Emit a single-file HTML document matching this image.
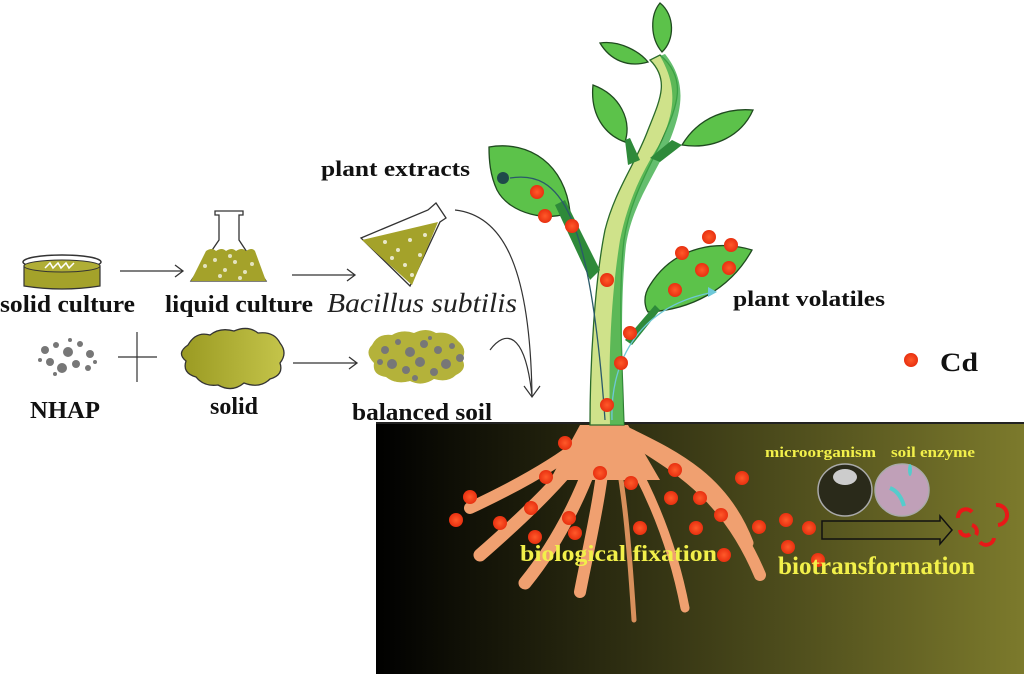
<!DOCTYPE html>
<html><head><meta charset="utf-8"><style>
html,body{margin:0;padding:0;background:#fff;width:1024px;height:674px;overflow:hidden}
svg{display:block}
.b{font-family:"Liberation Serif",serif;font-weight:bold;fill:#111}
.y{font-family:"Liberation Serif",serif;font-weight:bold;fill:#f2f04a}
</style></head><body>
<svg width="1024" height="674" viewBox="0 0 1024 674" xmlns="http://www.w3.org/2000/svg">
<defs>
<linearGradient id="soil" x1="0" x2="1" y1="0" y2="0">
<stop offset="0" stop-color="#000"/><stop offset="0.35" stop-color="#2a2a10"/><stop offset="1" stop-color="#7c7a2c"/>
</linearGradient>
<linearGradient id="olive" x1="0" x2="1"><stop offset="0" stop-color="#9a9a22"/><stop offset="1" stop-color="#c4c44a"/></linearGradient>
<radialGradient id="dot"><stop offset="0" stop-color="#ff5a2a"/><stop offset="1" stop-color="#e83010"/></radialGradient>
</defs>

<rect x="376" y="423" width="648" height="251" fill="url(#soil)"/>
<line x1="376" y1="423" x2="1024" y2="423" stroke="#222" stroke-width="2"/>

<!-- row 1 -->
<ellipse cx="62" cy="262" rx="39" ry="7" fill="none" stroke="#333" stroke-width="1.5"/>
<path d="M24,266 L24,286 Q62,292 100,286 L100,266 Q62,276 24,266Z" fill="#a4a22a" stroke="#333" stroke-width="1.2"/>
<ellipse cx="62" cy="266" rx="38" ry="6" fill="#b0ae36" stroke="#333" stroke-width="1"/>
<path d="M45,268 l5,-5 l3,5 l5,-5 l3,5 l5,-5 l3,5 l5,-5" fill="none" stroke="#fff" stroke-width="1.5"/>
<line x1="120" y1="271" x2="182" y2="271" stroke="#333" stroke-width="1.3"/><path d="M175,265 L183,271 L175,277" fill="none" stroke="#333" stroke-width="1.3"/>
<path d="M215,211 L243,211 L243,215 L239,215 L239,240 L266,281 L191,281 L219,240 L219,215 L215,215Z" fill="#fff" stroke="#333" stroke-width="1.3"/>
<path d="M206,251 q6,-4 10,0 q6,-4 10,0 q6,-4 10,0 q6,-4 10,0 q6,-4 9,0 L266,281 L191,281Z" fill="#a4a22a"/>
<g fill="#fff" opacity="0.7"><circle cx="205" cy="266" r="2"/><circle cx="215" cy="260" r="2"/><circle cx="225" cy="270" r="2"/><circle cx="235" cy="262" r="2"/><circle cx="245" cy="272" r="2"/><circle cx="252" cy="264" r="2"/><circle cx="220" cy="276" r="2"/><circle cx="240" cy="278" r="2"/><circle cx="230" cy="256" r="2"/></g>
<line x1="292" y1="275" x2="354" y2="275" stroke="#333" stroke-width="1.3"/><path d="M347,269 L355,275 L347,281" fill="none" stroke="#333" stroke-width="1.3"/>
<path d="M361,238 L428,210 L436,203 L446,218 L440,222 L410,286 Z" fill="#fff" stroke="#333" stroke-width="1.3"/>
<path d="M362,240 L438,222 L412,285Z" fill="#a4a22a"/>
<g fill="#fff" opacity="0.75"><circle cx="385" cy="242" r="2"/><circle cx="398" cy="250" r="2"/><circle cx="410" cy="240" r="2"/><circle cx="420" cy="255" r="2"/><circle cx="405" cy="265" r="2"/><circle cx="425" cy="235" r="2"/><circle cx="412" cy="275" r="2"/><circle cx="392" cy="258" r="2"/></g>
<text class="b" x="0" y="312" font-size="24" textLength="135" lengthAdjust="spacingAndGlyphs">solid culture</text>
<text class="b" x="165" y="312" font-size="24" textLength="148" lengthAdjust="spacingAndGlyphs">liquid culture</text>
<text x="327" y="312" font-size="27" font-family="Liberation Serif,serif" font-style="italic" fill="#222" textLength="190" lengthAdjust="spacingAndGlyphs">Bacillus subtilis</text>

<!-- row 2 -->
<g fill="#777"><circle cx="45" cy="350" r="4"/><circle cx="56" cy="345" r="3"/><circle cx="68" cy="352" r="5"/><circle cx="80" cy="344" r="3"/><circle cx="90" cy="354" r="4"/><circle cx="50" cy="362" r="4"/><circle cx="62" cy="368" r="5"/><circle cx="76" cy="364" r="4"/><circle cx="88" cy="368" r="3"/><circle cx="40" cy="360" r="2"/><circle cx="70" cy="340" r="2"/><circle cx="95" cy="362" r="2"/><circle cx="55" cy="374" r="2"/></g>
<line x1="118" y1="357" x2="157" y2="357" stroke="#333" stroke-width="1.2"/><line x1="137" y1="332" x2="137" y2="382" stroke="#333" stroke-width="1.2"/>
<path d="M188,345 q8,-14 22,-10 q10,-8 24,-4 q14,-6 24,2 q16,-2 22,10 q8,10 0,20 q4,12 -10,16 q-10,10 -26,4 q-12,10 -26,2 q-14,2 -22,-8 q-14,-4 -10,-16 q-10,-8 2,-16Z" fill="url(#olive)" stroke="#333" stroke-width="1.3"/>
<line x1="293" y1="363" x2="356" y2="363" stroke="#333" stroke-width="1.3"/><path d="M349,357 L357,363 L349,369" fill="none" stroke="#333" stroke-width="1.3"/>
<path d="M372,345 q6,-12 20,-10 q10,-6 22,-2 q12,-6 22,0 q14,-2 22,8 q10,8 4,18 q6,10 -6,16 q-8,8 -22,4 q-12,8 -24,2 q-14,4 -24,-4 q-14,-2 -12,-14 q-10,-10 -2,-18Z" fill="#b4b23a"/>
<g fill="#777"><circle cx="385" cy="350" r="4"/><circle cx="398" cy="342" r="3"/><circle cx="410" cy="352" r="5"/><circle cx="424" cy="344" r="4"/><circle cx="438" cy="350" r="4"/><circle cx="452" cy="346" r="3"/><circle cx="460" cy="358" r="4"/><circle cx="392" cy="364" r="5"/><circle cx="406" cy="370" r="4"/><circle cx="420" cy="362" r="5"/><circle cx="434" cy="372" r="4"/><circle cx="446" cy="364" r="5"/><circle cx="415" cy="378" r="3"/><circle cx="380" cy="362" r="3"/><circle cx="430" cy="338" r="2"/></g>
<text class="b" x="30" y="418" font-size="24" textLength="70" lengthAdjust="spacingAndGlyphs">NHAP</text>
<text class="b" x="210" y="414" font-size="24" textLength="48" lengthAdjust="spacingAndGlyphs">solid</text>
<text class="b" x="352" y="420" font-size="24" textLength="140" lengthAdjust="spacingAndGlyphs">balanced soil</text>

<path d="M455,210 C500,215 530,260 532,396" fill="none" stroke="#333" stroke-width="1.2"/>
<path d="M490,350 C505,330 525,330 532,396" fill="none" stroke="#333" stroke-width="1.2"/>
<path d="M524,386 L532,397 L540,386" fill="none" stroke="#333" stroke-width="1.2"/>

<!-- roots -->
<g stroke="#f0a070" stroke-linecap="round" fill="none">
<path d="M600,425 C580,450 530,480 470,508" stroke-width="12"/>
<path d="M600,425 C575,470 520,520 480,555" stroke-width="13"/>
<path d="M603,425 C590,480 560,540 525,583" stroke-width="13"/>
<path d="M606,425 C605,480 590,540 580,592" stroke-width="12"/>
<path d="M610,425 C625,480 630,560 634,620" stroke-width="5" stroke="#d8905c"/>
<path d="M610,425 C640,470 670,530 685,608" stroke-width="9"/>
<path d="M612,425 C660,460 720,480 760,575" stroke-width="12"/>
<path d="M612,425 C660,450 720,470 748,543" stroke-width="11"/>
</g>
<path d="M580,425 L628,425 L660,480 L550,480Z" fill="#f0a070"/>

<!-- stem -->
<path d="M590,425 C590,360 595,280 605,230 C615,190 635,165 648,130 C660,100 670,80 650,60 L660,55 C690,80 675,110 662,140 C648,170 630,200 624,240 C618,290 622,360 624,425Z" fill="#cfe28a" stroke="#2a6a2a" stroke-width="1.3"/>
<path d="M610,425 C608,350 612,290 620,240 C630,190 650,160 662,140 C672,115 680,90 660,56 L665,54 C690,85 680,115 668,145 C655,175 632,205 626,245 C620,300 622,370 624,425Z" fill="#3fae4a" opacity="0.8"/>
<g fill="#5cc24a" stroke="#1f4a1f" stroke-width="1.3">
<path d="M489,147 C530,140 565,165 570,212 C550,222 510,215 497,190 C490,175 489,160 489,147Z"/>
<path d="M593,85 C620,95 632,120 625,142 C605,135 590,115 593,85Z"/>
<path d="M753,110 C730,108 700,115 682,145 C715,150 742,135 753,110Z"/>
<path d="M600,43 C620,40 640,52 648,62 C628,68 610,60 600,43Z"/>
<path d="M660,3 C675,15 675,40 662,52 C650,38 650,15 660,3Z"/>
<path d="M752,250 C720,240 675,245 650,285 C640,300 648,312 648,312 C690,310 730,290 752,250Z"/>
</g>
<path d="M555,205 L590,280 L600,270 L565,200Z" fill="#2e8a3a"/>
<path d="M655,305 L625,340 L632,345 L660,310Z" fill="#2e8a3a"/>
<path d="M625,140 L628,165 L640,160 L630,138Z" fill="#2e8a3a"/>
<path d="M672,140 L650,158 L660,162 L682,145Z" fill="#2e8a3a"/>
<path d="M510,178 C560,170 590,210 605,420" fill="none" stroke="#2a5a6a" stroke-width="1.3"/>
<path d="M612,420 C610,360 640,305 715,292" fill="none" stroke="#6ec8d8" stroke-width="1.3"/>
<path d="M708,287 L717,292 L708,297Z" fill="#6ec8d8"/>
<circle cx="503" cy="178" r="6" fill="#1f4a4a"/>

<g fill="url(#dot)">
<circle cx="537" cy="192" r="7"/><circle cx="545" cy="216" r="7"/><circle cx="572" cy="226" r="7"/>
<circle cx="607" cy="280" r="7"/><circle cx="630" cy="333" r="7"/><circle cx="621" cy="363" r="7"/><circle cx="607" cy="405" r="7"/>
<circle cx="709" cy="237" r="7"/><circle cx="731" cy="245" r="7"/><circle cx="682" cy="253" r="7"/><circle cx="702" cy="270" r="7"/><circle cx="729" cy="268" r="7"/><circle cx="675" cy="290" r="7"/>
<circle cx="470" cy="497" r="7"/><circle cx="456" cy="520" r="7"/><circle cx="500" cy="523" r="7"/><circle cx="531" cy="508" r="7"/><circle cx="546" cy="477" r="7"/><circle cx="565" cy="443" r="7"/><circle cx="535" cy="537" r="7"/><circle cx="569" cy="518" r="7"/><circle cx="575" cy="533" r="7"/><circle cx="600" cy="473" r="7"/><circle cx="631" cy="483" r="7"/><circle cx="640" cy="528" r="7"/><circle cx="675" cy="470" r="7"/><circle cx="671" cy="498" r="7"/><circle cx="700" cy="498" r="7"/><circle cx="721" cy="515" r="7"/><circle cx="696" cy="528" r="7"/><circle cx="724" cy="555" r="7"/><circle cx="742" cy="478" r="7"/><circle cx="759" cy="527" r="7"/><circle cx="786" cy="520" r="7"/><circle cx="809" cy="528" r="7"/><circle cx="788" cy="547" r="7"/><circle cx="818" cy="560" r="7"/>
<circle cx="911" cy="360" r="7"/>
</g>
<text class="y" x="765" y="457" font-size="15" textLength="111" lengthAdjust="spacingAndGlyphs">microorganism</text>
<text class="y" x="891" y="457" font-size="15" textLength="84" lengthAdjust="spacingAndGlyphs">soil enzyme</text>
<ellipse cx="845" cy="490" rx="27" ry="26" fill="#2a2a1a" stroke="#aaa" stroke-width="1.5"/>
<ellipse cx="845" cy="477" rx="12" ry="8" fill="#ccc"/>
<ellipse cx="902" cy="490" rx="27" ry="26" fill="#c0a0b8" stroke="#aaa" stroke-width="1.5"/>
<path d="M890,488 q10,4 14,18" stroke="#5cc" stroke-width="4" fill="none"/>
<ellipse cx="910" cy="470" rx="2" ry="6" fill="#5cc"/>
<path d="M822,521 L940,521 L940,516 L952,530 L940,544 L940,539 L822,539Z" fill="none" stroke="#111" stroke-width="1.5"/>
<g fill="none" stroke="#e81818" stroke-width="4"><path d="M958,518 a8,8 0 0 1 14,-6"/><path d="M972,525 a7,7 0 0 1 4,10"/><path d="M996,505 a10,10 0 0 1 2,20"/><path d="M980,542 a8,8 0 0 0 14,-4"/><path d="M960,530 a6,6 0 0 0 10,4"/></g>
<text class="y" x="520" y="561" font-size="23" textLength="197" lengthAdjust="spacingAndGlyphs">biological fixation</text>
<text class="y" x="778" y="574" font-size="25" textLength="197" lengthAdjust="spacingAndGlyphs">biotransformation</text>

<text class="b" x="321" y="176" font-size="22" textLength="149" lengthAdjust="spacingAndGlyphs">plant extracts</text>
<text class="b" x="733" y="306" font-size="22" textLength="152" lengthAdjust="spacingAndGlyphs">plant volatiles</text>
<text class="b" x="940" y="371" font-size="26" textLength="38" lengthAdjust="spacingAndGlyphs">Cd</text>
</svg>
</body></html>
